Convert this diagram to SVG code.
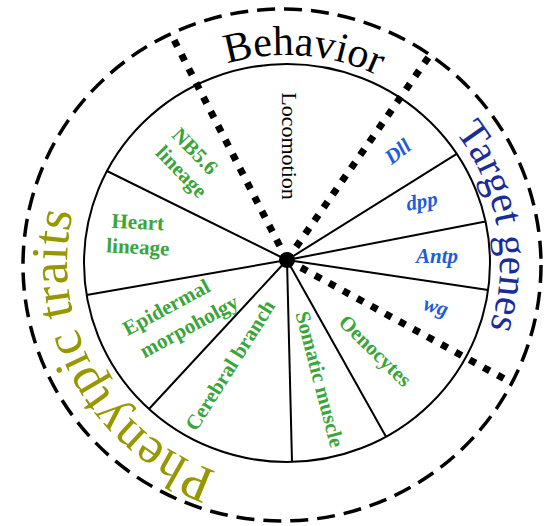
<svg xmlns="http://www.w3.org/2000/svg" xmlns:xlink="http://www.w3.org/1999/xlink" width="547" height="526" viewBox="0 0 547 526">
<style>
.cat{font-family:"Liberation Serif","Times New Roman",serif;}
.green{font-family:"Liberation Serif","Times New Roman",serif;font-weight:bold;font-size:21px;fill:#3aa53a;text-anchor:middle;}
.blue{font-family:"Liberation Serif","Times New Roman",serif;font-weight:bold;font-style:italic;font-size:21px;fill:#1e5cd8;text-anchor:middle;}
.spoke{stroke:#000;stroke-width:2;fill:none;}
.dots{stroke:#000;stroke-width:7;stroke-dasharray:7 9;fill:none;}
</style>
<defs>
<path id="arcBehavior" d="M115.58,145.19 A208,208 0 0 1 474.74,173.45"/>
<path id="arcTarget" d="M359.85,62.85 A213,213 0 0 1 423.91,426.17"/>
<path id="arcPheno" d="M321.41,480.29 A220,220 0 0 1 120.96,118.67"/>
</defs>
<rect width="547" height="526" fill="#fff"/>

<g id="outer-ring">
<ellipse cx="282" cy="265" rx="259" ry="256" fill="none" stroke="#000" stroke-width="3.5" stroke-dasharray="18 9"/>
</g>
<g id="inner-circle">
<ellipse cx="287" cy="263" rx="203" ry="199" fill="none" stroke="#000" stroke-width="2"/>
</g>

<g id="connectors">
<line class="spoke" x1="287" y1="260" x2="107" y2="171"/>
<line class="spoke" x1="287" y1="260" x2="86.6" y2="295"/>
<line class="spoke" x1="287" y1="260" x2="149" y2="409"/>
<line class="spoke" x1="287" y1="260" x2="292" y2="462"/>
<line class="spoke" x1="287" y1="260" x2="386" y2="436.7"/>
<line class="spoke" x1="287" y1="260" x2="488.2" y2="290"/>
<line class="spoke" x1="287" y1="260" x2="485.5" y2="221.5"/>
<line class="spoke" x1="287" y1="260" x2="456.7" y2="153.9"/>
<line class="dots" x1="287" y1="260" x2="172" y2="36"/>
<line class="dots" x1="287" y1="260" x2="430" y2="55"/>
<line class="dots" x1="287" y1="260" x2="512" y2="383"/>
</g>
<g id="hub"><circle cx="287" cy="260" r="8" fill="#000"/></g>

<g id="behavior">
<text class="cat" font-size="42" fill="#000"><textPath href="#arcBehavior" xlink:href="#arcBehavior" startOffset="50%" text-anchor="middle">Behavior</textPath></text>
</g>
<g id="target-genes">
<text class="cat" font-size="41" fill="#1b2c97"><textPath href="#arcTarget" xlink:href="#arcTarget" startOffset="50%" text-anchor="middle">Target genes</textPath></text>
</g>
<g id="phenotypic-traits">
<text class="cat" font-size="52" fill="#979700"><textPath href="#arcPheno" xlink:href="#arcPheno" startOffset="50%" text-anchor="middle">Phenytpic traits</textPath></text>
</g>

<g id="locomotion">
<text class="cat" font-size="22" fill="#000" text-anchor="middle" transform="translate(282,146) rotate(90)">Locomotion</text>
</g>
<g id="nb56-lineage">
<text class="green" transform="translate(190,156) rotate(46)">NB5.6</text>
<text class="green" transform="translate(176.5,176.5) rotate(46)">lineage</text>
</g>
<g id="heart-lineage">
<text class="green" transform="translate(137.5,229) rotate(3)">Heart</text>
<text class="green" transform="translate(137.5,254) rotate(3)">lineage</text>
</g>
<g id="epidermal-morphology">
<text class="green" transform="translate(169.5,313.5) rotate(-28.5)">Epidermal</text>
<text class="green" transform="translate(192.3,332.5) rotate(-28.5)">morpoholgy</text>
</g>
<g id="cerebral-branch">
<text class="green" transform="translate(236,369) rotate(-57.8)">Cerebral branch</text>
</g>
<g id="somatic-muscle">
<text class="green" transform="translate(313,381) rotate(75.3)">Somatic muscle</text>
</g>
<g id="oenocytes">
<text class="green" transform="translate(370.4,355.7) rotate(44.5)">Oenocytes</text>
</g>
<g id="dll">
<text class="blue" transform="translate(402,157) rotate(-38)">Dll</text>
</g>
<g id="dpp">
<text class="blue" transform="translate(423,208) rotate(-10)">dpp</text>
</g>
<g id="antp">
<text class="blue" transform="translate(437,263)">Antp</text>
</g>
<g id="wg">
<text class="blue" transform="translate(434,313) rotate(17)">wg</text>
</g>
</svg>
